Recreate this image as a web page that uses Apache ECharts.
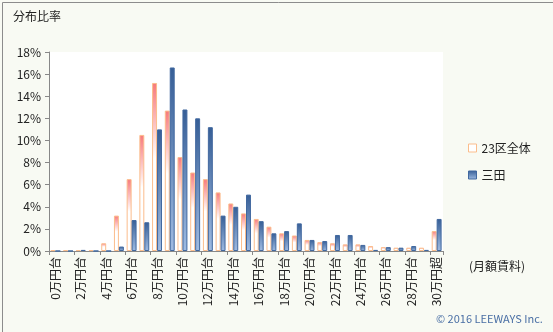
<!DOCTYPE html>
<html>
<head>
<meta charset="utf-8">
<script src="https://cdn.jsdelivr.net/npm/echarts@6/dist/echarts.min.js"></script>
<style>
html,body{margin:0;padding:0;background:#f8faf3;}
#c{width:553px;height:332px;}
</style>
</head>
<body>
<div id="c"></div>
<script>
const categories = ['0万円台','1万円台','2万円台','3万円台','4万円台','5万円台','6万円台','7万円台','8万円台','9万円台',
  '10万円台','11万円台','12万円台','13万円台','14万円台','15万円台','16万円台','17万円台','18万円台','19万円台',
  '20万円台','21万円台','22万円台','23万円台','24万円台','25万円台','26万円台','27万円台','28万円台','29万円台','30万円超'];
const ward23 = [0.08,0.08,0.08,0.08,0.7,3.2,6.5,10.5,15.2,12.7,8.5,7.1,6.5,5.3,4.3,3.4,2.9,2.2,1.6,1.4,1.0,0.8,0.7,0.6,0.6,0.45,0.35,0.3,0.3,0.3,1.8];
const mita = [0,0,0.1,0,0,0.4,2.8,2.6,11.0,16.6,12.8,12.0,11.2,3.2,4.0,5.1,2.7,1.6,1.8,2.5,1.0,0.9,1.45,1.45,0.55,0.1,0.35,0.3,0.45,0.1,2.9];
const yTicks = ['0%','2%','4%','6%','8%','10%','12%','14%','16%','18%'];

const font = '"Noto Sans CJK JP", "Noto Sans", sans-serif';
const chart = echarts.init(document.getElementById('c'));
const orangeFill = new echarts.graphic.LinearGradient(0,0,0,1,[
  {offset:0,color:'#f7797b'},{offset:0.45,color:'#ffffff'},{offset:1,color:'#ffffff'}]);
const blueFill = new echarts.graphic.LinearGradient(0,0,0,1,[
  {offset:0,color:'#365e96'},{offset:1,color:'#9fbbe2'}]);
chart.setOption({
  backgroundColor:'#f8faf3',
  animation:false,
  textStyle:{fontFamily:font},
  grid:{left:49,right:110,top:52,bottom:81,show:true,backgroundColor:'#ffffff',borderWidth:0},
  legend:{
    orient:'vertical',left:463,top:137,itemWidth:8,itemHeight:8,itemGap:15,
    textStyle:{fontFamily:font,fontSize:12,color:'#222'},
    data:[
      {name:'23区全体',icon:'rect',itemStyle:{color:'#ffffff',borderColor:'#fbbd8c',borderWidth:1}},
      {name:'三田',icon:'rect',itemStyle:{color:blueFill,borderColor:'#41689f',borderWidth:1}}
    ]
  },
  xAxis:{
    type:'category',data:categories,boundaryGap:true,
    axisLine:{lineStyle:{color:'#888',width:1}},
    axisTick:{show:true,interval:1,length:4,lineStyle:{color:'#888'}},
    axisLabel:{interval:1,rotate:90,fontSize:12,color:'#222',margin:6,fontFamily:font}
  },
  yAxis:{
    type:'value',min:0,max:18,interval:2,
    axisLine:{show:true,lineStyle:{color:'#888'}},
    axisTick:{show:true,length:4,lineStyle:{color:'#888'}},
    splitLine:{show:false},
    axisLabel:{fontSize:12,color:'#222',margin:8,fontFamily:font,
      formatter:(v)=>yTicks[Math.round(v/2)]}
  },
  series:[
    {name:'23区全体',type:'bar',data:ward23,barGap:'0%',barCategoryGap:'22%',
      itemStyle:{color:orangeFill,borderColor:'#fbbd8c',borderWidth:1}},
    {name:'三田',type:'bar',data:mita,barGap:'0%',barCategoryGap:'22%',
      itemStyle:{color:blueFill,borderColor:'#41689f',borderWidth:1}}
  ],
  graphic:[
    {type:'rect',left:0,top:0,shape:{width:552,height:331},style:{fill:'none',stroke:'#8c8c8c',lineWidth:1},silent:true,z:100},
    {type:'text',left:13,top:10,style:{text:'分布比率',font:'12px '+font,fill:'#222'}},
    {type:'text',left:469,top:260,style:{text:'(月額賃料)',font:'12px '+font,fill:'#222'}},
    {type:'text',left:436,top:313,style:{text:'© 2016 LEEWAYS Inc.',font:'11px '+font,fill:'#4a6fa5'}}
  ]
});
</script>
</body>
</html>
